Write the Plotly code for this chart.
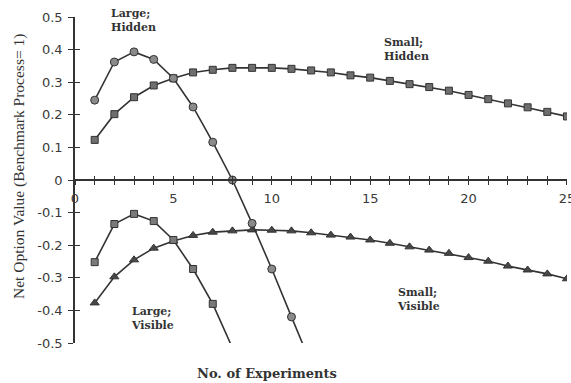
import plotly.graph_objects as go

x_large_hidden = [1, 2, 3, 4, 5, 6, 7, 8, 9, 10, 11, 12]
large_hidden = [0.245, 0.362, 0.393, 0.370, 0.312, 0.224, 0.116, 0.0, -0.133, -0.273, -0.420, -0.565]

x_small = list(range(1, 26))
small_hidden = [0.123, 0.202, 0.254, 0.290, 0.312, 0.330, 0.338, 0.344, 0.344, 0.344,
                0.341, 0.336, 0.330, 0.321, 0.314, 0.304, 0.294, 0.285, 0.274, 0.261,
                0.248, 0.235, 0.223, 0.209, 0.195]

x_large_visible = [1, 2, 3, 4, 5, 6, 7, 8]
large_visible = [-0.252, -0.135, -0.104, -0.126, -0.184, -0.273, -0.380, -0.515]

small_visible = [-0.377, -0.297, -0.245, -0.209, -0.187, -0.170, -0.160, -0.156, -0.153, -0.154,
                 -0.156, -0.162, -0.169, -0.175, -0.184, -0.194, -0.205, -0.215, -0.225, -0.238,
                 -0.249, -0.264, -0.276, -0.288, -0.303]

y_tickvals = [0.5, 0.4, 0.3, 0.2, 0.1, 0, -0.1, -0.2, -0.3, -0.4, -0.5]
y_ticktext = ["0.5", "0.4", "0.3", "0.2", "0.1", "0", "-0.1", "-0.2", "-0.3", "-0.4", "-0.5"]
x_tickvals = [0, 5, 10, 15, 20, 25]
x_ticktext = ["0", "5", "10", "15", "20", "25"]

labels = ["Large;<br>Hidden", "Small;<br>Hidden", "Large;<br>Visible", "Small;<br>Visible"]
label_x = [1.75, 15.6, 2.75, 16.25]
label_y = [0.488, 0.399, -0.426, -0.368]

LINE = "#333333"

fig = go.Figure()

def add(xs, ys, symbol, fill, size):
    fig.add_trace(go.Scatter(
        x=xs, y=ys, mode="lines+markers",
        line=dict(color=LINE, width=1.6),
        marker=dict(symbol=symbol, size=size, color=fill, line=dict(color=LINE, width=1)),
        showlegend=False, cliponaxis=True))

add(x_small, small_hidden, "square", "#6e6e6e", 7)
add(x_small, small_visible, "triangle-up", "#474747", 8)
add(x_large_visible, large_visible, "square", "#7a7a7a", 7)
add(x_large_hidden, large_hidden, "circle", "#8a8a8a", 8)

tickfont = dict(family="DejaVu Sans", size=13, color="#3a3a3a")

fig.update_layout(
    width=571, height=383,
    margin=dict(l=75, r=4, t=17, b=40),
    paper_bgcolor="white", plot_bgcolor="white",
    template="none",
    xaxis=dict(range=[0, 25.001], anchor="free", position=0.5, showline=True, linecolor=LINE,
               linewidth=1.5, ticks="outside", ticklen=4, tickcolor=LINE, tickwidth=1,
               tickvals=x_tickvals, ticktext=x_ticktext, tickfont=tickfont,
               ticklabelstandoff=3, ticklabeloverflow="allow",
               minor=dict(dtick=1, tick0=0, ticks="outside", ticklen=4, tickcolor=LINE, tickwidth=1, showgrid=False),
               showgrid=False, zeroline=False, automargin=False),
    xaxis2=dict(range=[0, 25.001], overlaying="x", anchor="free", position=0.5, showline=False,
                ticks="inside", ticklen=4, tickcolor=LINE, tickwidth=1,
                tickvals=x_tickvals, showticklabels=False,
                minor=dict(dtick=1, tick0=0, ticks="inside", ticklen=4, tickcolor=LINE, tickwidth=1, showgrid=False),
                showgrid=False, zeroline=False, automargin=False),
    yaxis=dict(range=[-0.5, 0.5], showline=True, linecolor=LINE, linewidth=1.5,
               ticks="outside", ticklen=5, tickcolor=LINE, tickwidth=1,
               tickvals=y_tickvals, ticktext=y_ticktext, tickfont=tickfont,
               ticklabelstandoff=3,
               showgrid=False, zeroline=False, automargin=False),
    yaxis2=dict(range=[-0.5, 0.5], overlaying="y", side="left", showline=False,
                ticks="inside", ticklen=5, tickcolor=LINE, tickwidth=1,
                tickvals=y_tickvals, showticklabels=False,
                showgrid=False, zeroline=False, automargin=False),
)

fig.add_trace(go.Scatter(x=[None], y=[None], xaxis="x2", yaxis="y2", showlegend=False, hoverinfo="skip"))

for t, lx, ly in zip(labels, label_x, label_y):
    bold = "<b>" + t.replace("<br>", "</b><br><b>") + "</b>"
    fig.add_annotation(x=lx, y=ly, xref="x", yref="y", text=bold, showarrow=False,
                       xanchor="left", yanchor="middle", align="left",
                       font=dict(family="DejaVu Serif", size=11, color="#333333"))

fig.add_annotation(x=(267 - 75) / 492, y=0, xref="paper", yref="paper", yshift=-30,
                   text="<b>No. of Experiments</b>", showarrow=False, xanchor="center", yanchor="middle",
                   font=dict(family="DejaVu Serif", size=13, color="#333333"))
fig.add_annotation(x=(19 - 75) / 492, y=(343 - 167) / 326, xref="paper", yref="paper",
                   text="Net Option Value (Benchmark Process= 1)", showarrow=False, textangle=-90,
                   xanchor="center", yanchor="middle",
                   font=dict(family="Liberation Serif", size=15.5, color="#333333"))

fig.write_html("out.html", config={"displayModeBar": False},
               post_script="document.body.style.margin='0';")
